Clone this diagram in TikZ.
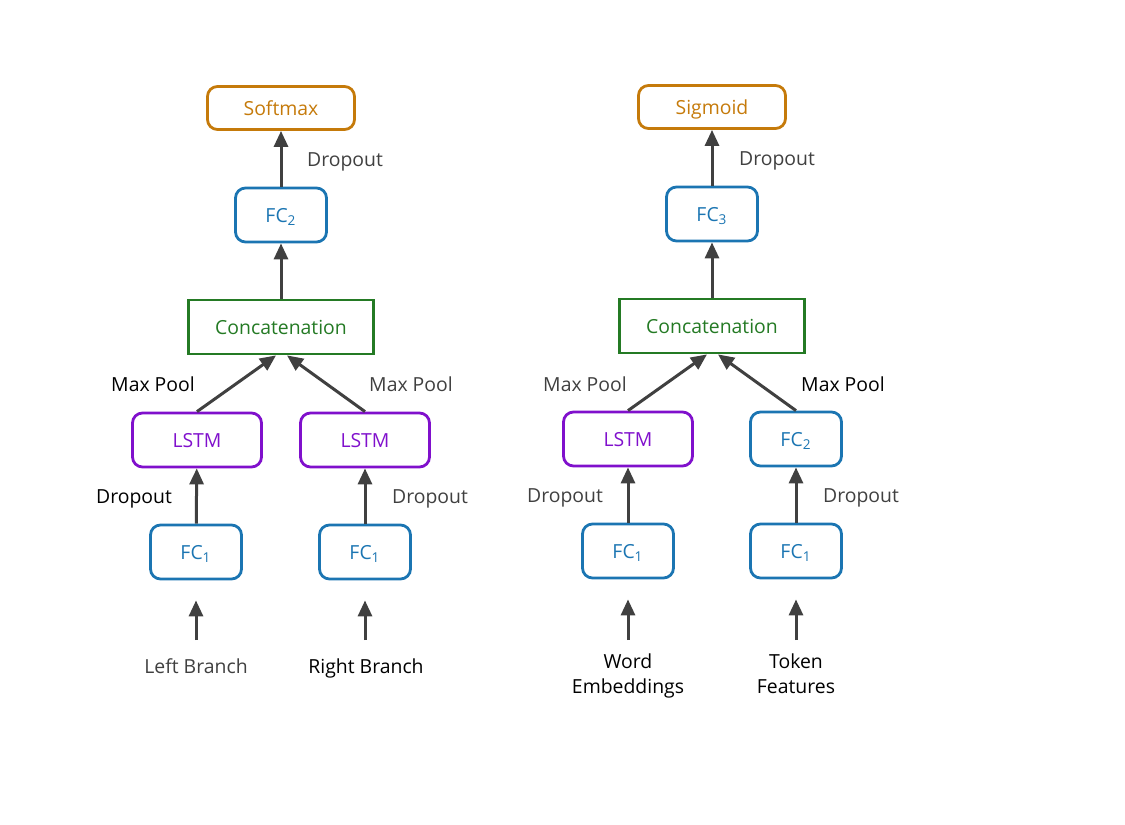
\documentclass[tikz,border=0pt]{standalone}
\usepackage{fontspec}
\setmainfont{Open Sans}
\usetikzlibrary{arrows.meta,positioning}
\definecolor{outorange}{RGB}{197,122,10}
\definecolor{fcblue}{RGB}{27,117,178}
\definecolor{lstmpurple}{RGB}{128,16,204}
\definecolor{catgreen}{RGB}{36,122,36}
\definecolor{arrowgray}{RGB}{64,64,64}
\definecolor{labelgray}{RGB}{64,64,64}

\begin{document}
\begin{tikzpicture}[x=0.5pt, y=-0.5pt,
    font=\fontsize{9.7}{12.5}\selectfont,
    box/.style={rectangle, rounded corners=5pt, draw, line width=1.4pt, minimum height=27pt, text height=8.5pt, text depth=1pt},
    fc/.style={box, draw=fcblue, text=fcblue, minimum width=45.5pt},
    lstm/.style={box, draw=lstmpurple, text=lstmpurple, minimum width=64.5pt},
    outbox/.style={box, draw=outorange, text=outorange, minimum width=73.5pt, minimum height=21.5pt},
    cat/.style={box, rounded corners=0pt, draw=catgreen, text=catgreen, minimum width=92.5pt},
    arr/.style={-{Triangle[width=7pt,length=8pt]}, line width=1.5pt, draw=arrowgray},
    lbl/.style={anchor=base, text=labelgray},
    dark/.style={anchor=base, text=black}]

    \useasboundingbox (0,0) rectangle (1125,825);

    % left model: two LSTM branches
    \node[outbox] (soft) at (281,108) {Softmax};
    \node[fc] (fcA2) at (281,215) {FC\textsubscript{2}};
    \node[cat] (catA) at (281,327) {Concatenation};
    \node[lstm] (lstmA) at (197,440) {LSTM};
    \node[lstm] (lstmB) at (365,440) {LSTM};
    \node[fc] (fcA1) at (196,552) {FC\textsubscript{1}};
    \node[fc] (fcB1) at (365,552) {FC\textsubscript{1}};
    \node[lbl] (inA) at (196,673) {Left Branch};
    \node[dark] (inB) at (366,673) {Right Branch};

    % right model: LSTM on words, FC on token features
    \node[outbox] (sig) at (712,107) {Sigmoid};
    \node[fc] (fcC3) at (712,214) {FC\textsubscript{3}};
    \node[cat] (catB) at (712,326) {Concatenation};
    \node[lstm] (lstmC) at (628,439) {LSTM};
    \node[fc] (fcD2) at (796,439) {FC\textsubscript{2}};
    \node[fc] (fcC1) at (628,551) {FC\textsubscript{1}};
    \node[fc] (fcD1) at (796,551) {FC\textsubscript{1}};
    \node[dark, align=center] (inC) at (628,693) {Word\\Embeddings};
    \node[dark, align=center] (inD) at (796,693) {Token\\Features};

    % edge labels
    \node[lbl] (dropA3) at (345,166) {Dropout};
    \node[dark] (dropA1) at (134,503) {Dropout};
    \node[lbl] (dropB1) at (430,503) {Dropout};
    \node[dark] (poolA) at (153,391) {Max Pool};
    \node[lbl] (poolB) at (411,391) {Max Pool};
    \node[lbl] (dropC3) at (777,165) {Dropout};
    \node[lbl] (dropC1) at (565,502) {Dropout};
    \node[lbl] (dropD1) at (861,502) {Dropout};
    \node[lbl] (poolC) at (585,391) {Max Pool};
    \node[dark] (poolD) at (843,391) {Max Pool};

    \foreach \s/ \d in {fcA1/lstmA, fcB1/lstmB, fcC1/lstmC, fcD1/fcD2, catA/fcA2, fcA2/soft, catB/fcC3, fcC3/sig}{
        \draw[arr] (\s) -- (\d);
    }

    \draw[arr] (lstmA.north) -- ([xshift=-2.5pt]catA.south);
    \draw[arr] (lstmB.north) -- ([xshift=3pt]catA.south);
    \draw[arr] (lstmC.north) -- ([xshift=-2.5pt]catB.south);
    \draw[arr] (fcD2.north) -- ([xshift=3pt]catB.south);

    % inputs
    \foreach \n/ \x in {A/196, B/365, C/628, D/796}{
        \coordinate (src\n) at (\x,640);
    }
    \foreach \s/ \d in {srcA/fcA1, srcB/fcB1, srcC/fcC1, srcD/fcD1}{
        \draw[arr, shorten >=10pt] (\s) -- (\d);
    }

\end{tikzpicture}
\end{document}
